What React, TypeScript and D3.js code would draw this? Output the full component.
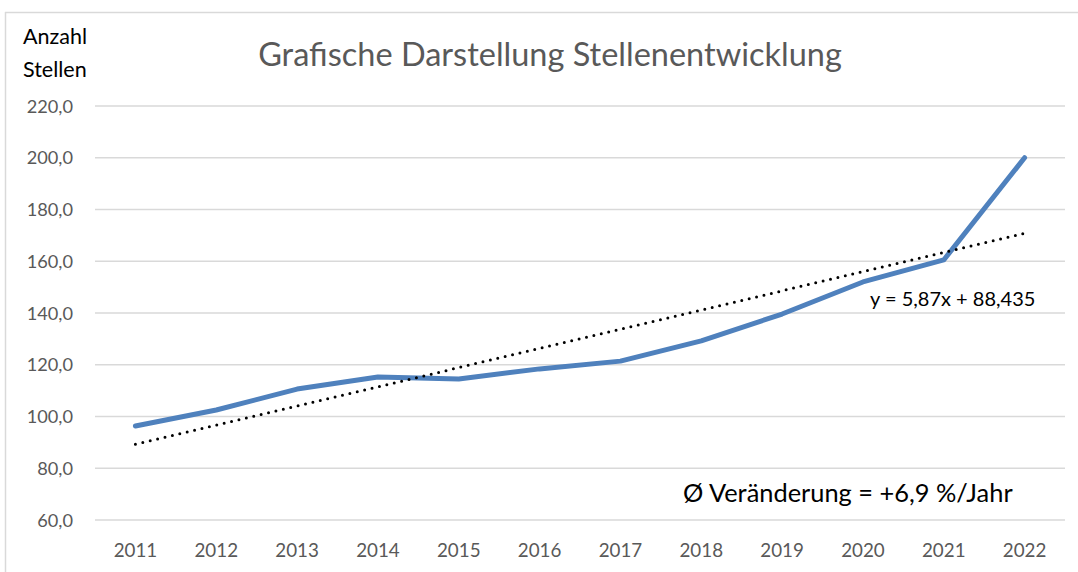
import React from "react";
import * as d3 from "d3";

const years = ["2011","2012","2013","2014","2015","2016","2017","2018","2019","2020","2021","2022"];
const stellen = [96.3, 102.5, 110.6, 115.3, 114.5, 118.4, 121.4, 129.2, 139.6, 152.0, 160.5, 200.0];
const yTicks = [60, 80, 100, 120, 140, 160, 180, 200, 220];
const title = "Grafische Darstellung Stellenentwicklung";
const trendLabel = "y = 5,87x + 88,435";
const noteLabel = "Ø Veränderung = +6,9 %/Jahr";

const W = 1078, H = 572;
const plotL = 95, plotR = 1065, plotT = 106, plotB = 520;
const FONT = "Lato, 'Open Sans', sans-serif";

export default function App() {
  const x = d3.scaleBand<string>().domain(years).range([plotL, plotR]);
  const cx = (y: string) => (x(y) as number) + x.bandwidth() / 2;
  const y = d3.scaleLinear().domain([60, 220]).range([plotB, plotT]);

  // linear regression on index 1..n
  const n = stellen.length;
  const xs = stellen.map((_, i) => i + 1);
  const mx = d3.mean(xs) as number;
  const my = d3.mean(stellen) as number;
  const slope = d3.sum(xs.map((xi, i) => (xi - mx) * (stellen[i] - my))) / d3.sum(xs.map((xi) => (xi - mx) ** 2));
  const icpt = my - slope * mx;
  const trend = [1, n].map((i) => ({ px: cx(years[i - 1]), v: icpt + slope * i }));

  const line = d3.line<number>().x((_, i) => cx(years[i])).y((d) => y(d));
  const fmt = (v: number) => v.toFixed(1).replace(".", ",");

  return (
    <svg width={W} height={H} style={{ position: "absolute", left: 0, top: 0, background: "#fff" }}>
      <rect x={0} y={0} width={W} height={H} fill="#fff" />
      <line x1={5.5} y1={12} x2={5.5} y2={H} stroke="#d9d9d9" strokeWidth={1.5} />
      <line x1={5} y1={12.5} x2={W} y2={12.5} stroke="#d9d9d9" strokeWidth={1.5} />
      <text x={550} y={66} textAnchor="middle" fontFamily={FONT} fontSize={32.5} fill="#595959">{title}</text>
      <text x={23} y={44} fontFamily={FONT} fontSize={21.5} fill="#000">Anzahl</text>
      <text x={23} y={77} fontFamily={FONT} fontSize={21.5} fill="#000">Stellen</text>
      {yTicks.map((t) => (
        <g key={t}>
          <line x1={plotL} x2={plotR} y1={y(t)} y2={y(t)} stroke="#d9d9d9" strokeWidth={1.5} />
          <text x={73} y={y(t) + 6.5} textAnchor="end" fontFamily={FONT} fontSize={18.2} fill="#595959">{fmt(t)}</text>
        </g>
      ))}
      {years.map((yr) => (
        <text key={yr} x={cx(yr)} y={557} textAnchor="middle" fontFamily={FONT} fontSize={18.8} fill="#595959">{yr}</text>
      ))}
      <path d={line(stellen) || ""} fill="none" stroke="#4f81bd" strokeWidth={5} strokeLinejoin="round" strokeLinecap="round" />
      <line x1={trend[0].px} y1={y(trend[0].v)} x2={trend[1].px} y2={y(trend[1].v)} stroke="#000" strokeWidth={3} strokeDasharray="0 7.6" strokeLinecap="round" />
      <text x={870} y={306} fontFamily={FONT} fontSize={20} fill="#000">{trendLabel}</text>
      <text x={683} y={502} fontFamily={FONT} fontSize={25.4} fill="#000">{noteLabel}</text>
    </svg>
  );
}
